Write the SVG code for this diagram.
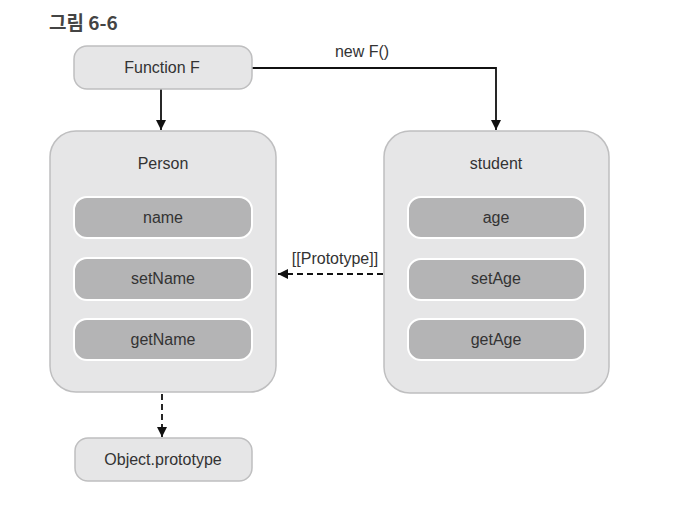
<svg xmlns="http://www.w3.org/2000/svg" width="684" height="517" viewBox="0 0 684 517">
<defs>
<style>
text{font-family:"Liberation Sans","Noto Sans CJK KR",sans-serif;fill:#333;font-size:16px;text-anchor:middle;dominant-baseline:central}
.title{font-family:"Noto Sans CJK KR","Liberation Sans",sans-serif;font-weight:bold;font-size:19px;text-anchor:start;fill:#444}
.outer{fill:#e6e6e7;stroke:#bfbfc0;stroke-width:1.5}
.inner{fill:#b4b4b5;stroke:#ffffff;stroke-width:2}
.line{fill:none;stroke:#111;stroke-width:1.8}
.dash{stroke-dasharray:6 4}
</style>
<marker id="arr" viewBox="0 0 10 10" refX="10" refY="5" markerWidth="10" markerHeight="10" markerUnits="userSpaceOnUse" orient="auto">
<path d="M0,0 L10,5 L0,10 z" fill="#111"/>
</marker>
</defs>
<rect width="684" height="517" fill="#fff"/>
<text class="title" x="49" y="21">그림 6-6</text>
<g id="connectors">
<path class="line" d="M161,89 V130" marker-end="url(#arr)"/>
<path class="line" d="M252,68 H496 V130" marker-end="url(#arr)"/>
<path class="line dash" d="M383,274 H278" marker-end="url(#arr)"/>
<path class="line dash" d="M162,394 V437" marker-end="url(#arr)"/>
<text x="362" y="51">new F()</text>
<text x="335" y="258">[[Prototype]]</text>
</g>
<g id="functionF">
<rect class="outer" x="74" y="46" width="178" height="43" rx="13"/>
<text x="162" y="67">Function F</text>
</g>
<g id="person">
<rect class="outer" x="50" y="131" width="226" height="261" rx="26"/>
<text x="163" y="163">Person</text>
<g id="name"><rect class="inner" x="74" y="197" width="178" height="41" rx="13"/><text x="163" y="217">name</text></g>
<g id="setName"><rect class="inner" x="74" y="258" width="178" height="42" rx="13"/><text x="163" y="278">setName</text></g>
<g id="getName"><rect class="inner" x="74" y="319" width="178" height="41" rx="13"/><text x="163" y="339">getName</text></g>
</g>
<g id="student">
<rect class="outer" x="384" y="131" width="225" height="262" rx="26"/>
<text x="496" y="163">student</text>
<g id="age"><rect class="inner" x="408" y="197" width="177" height="41" rx="13"/><text x="496" y="217">age</text></g>
<g id="setAge"><rect class="inner" x="408" y="259" width="177" height="41" rx="13"/><text x="496" y="278">setAge</text></g>
<g id="getAge"><rect class="inner" x="408" y="319" width="177" height="41" rx="13"/><text x="496" y="339">getAge</text></g>
</g>
<g id="objectPrototype">
<rect class="outer" x="75" y="438" width="177" height="43" rx="13"/>
<text x="163" y="459">Object.prototype</text>
</g>
</svg>
